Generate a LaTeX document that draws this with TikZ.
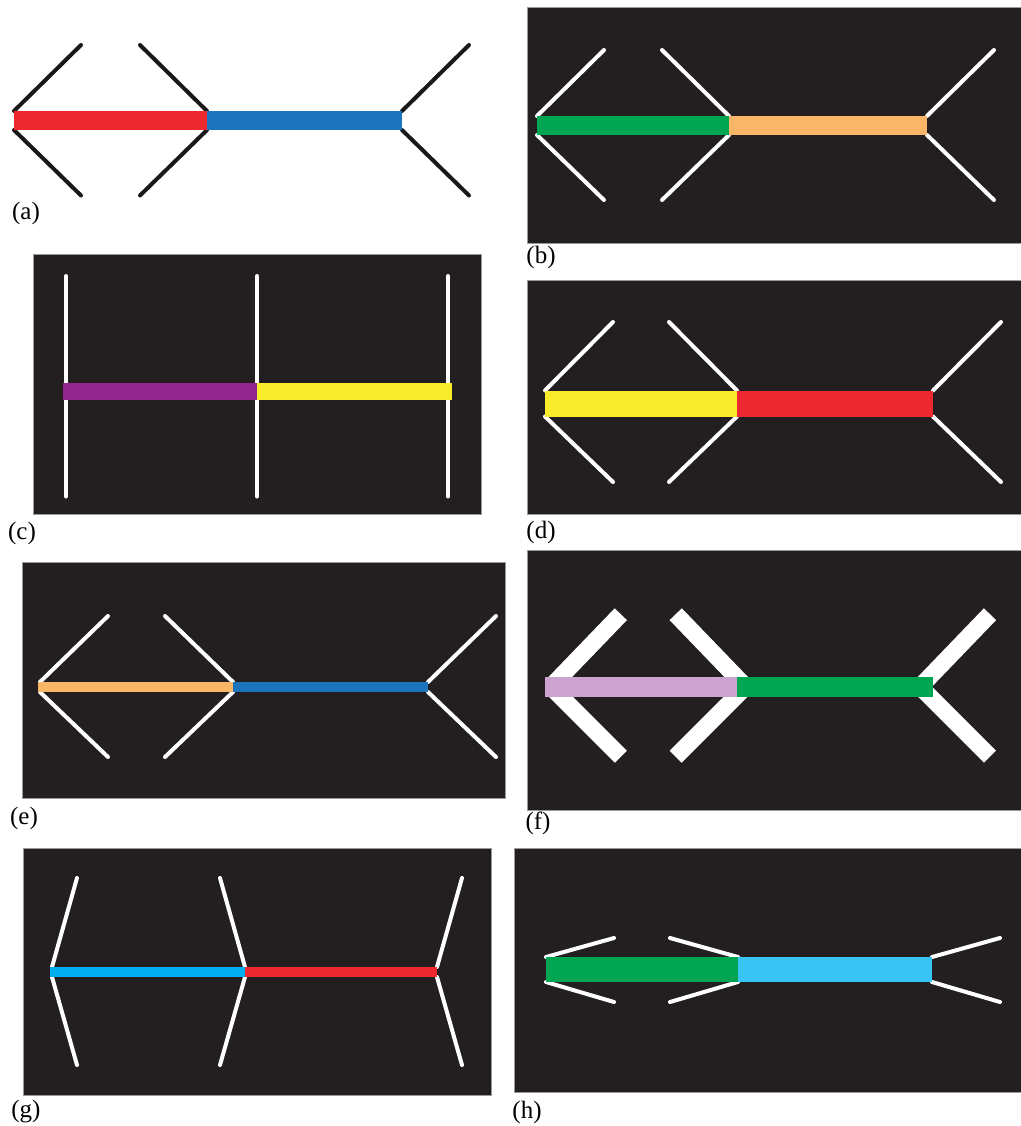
\documentclass[tikz,border=0pt]{standalone}
\usepackage{fontspec}
\setmainfont{Liberation Serif}
\usepackage{tikz}
\usetikzlibrary{calc}
\usepackage{xcolor}
\definecolor{bgdark}{RGB}{35,31,32}
\definecolor{mlred}{RGB}{237,41,48}
\definecolor{mlblue}{RGB}{28,117,188}
\definecolor{mlgreen}{RGB}{0,166,81}
\definecolor{mlorange}{RGB}{249,182,104}
\definecolor{mlpurple}{RGB}{146,39,143}
\definecolor{mlyellow}{RGB}{249,236,45}
\definecolor{mllilac}{RGB}{203,163,206}
\definecolor{mlcyan}{RGB}{0,174,239}
\definecolor{mlsky}{RGB}{57,197,243}

\begin{document}
\begin{tikzpicture}[x=0.5pt, y=-0.5pt,
    backdrop/.style={fill=bgdark, draw=black!40, line width=0.5pt},
    finblack/.style={draw=black!90, line width=2pt, line cap=round},
    finwhite/.style={draw=white, line width=2pt, line cap=round},
    finthick/.style={draw=white, line width=8.5pt, line cap=butt},
    lbl/.style={font=\fontsize{12.5}{15}\selectfont, inner sep=0pt}]
  \useasboundingbox (0,0) rectangle (1021,1126);
  % dark panels
  \foreach \p/\xa/\ya/\xb/\yb in {b/527/7/1021/243, c/33/254/481/514,
      d/527/280/1021/514, e/22/562/505/798, f/527/550/1021/810,
      g/23/848/491/1095, h/514/848/1021/1092}
    \filldraw[backdrop] (\xa,\ya) rectangle (\xb,\yb);
  % fins: vertex x's, centre y, start offset, reach, style
  \foreach \p/\xl/\xm/\xr/\yc/\hf/\dx/\fu/\fd/\fs in {
      a/14/207/402/120.5/9.5/67/75.5/75/finblack,
      b/537/729/927/125.5/9.5/67/75.5/74.5/finwhite,
      c/66/257/448/391.5/8.5/0/115.5/105/finwhite,
      d/545/737/933/403.5/13/68/81.5/78.5/finwhite,
      e/40/233/428/687/5/68/71/70/finwhite,
      f/554.8/741.7/924/686.7/4/66/72.5/70/finthick,
      g/52/245/437/972/5/25/94/93/finwhite,
      h/546/738/932/969.5/12.5/68/31.5/32.5/finwhite}
    \foreach \x/\s in {\xl/1,\xm/-1,\xr/1}
      \draw[\fs] ({\x+\s*\dx},{\yc-\fu}) -- (\x,{\yc-\hf})
        (\x,{\yc+\hf}) -- ({\x+\s*\dx},{\yc+\fd});
  % two-coloured shafts
  \foreach \p/\xl/\xm/\xr/\yc/\hb/\cA/\cB in {
      a/14/207/402/120.5/9.5/mlred/mlblue,
      b/537/729/927/125.5/9.5/mlgreen/mlorange,
      c/63/257/452/391.5/8.5/mlpurple/mlyellow,
      d/545/737/933/403.5/13/mlyellow/mlred,
      e/38/233/428/687/5/mlorange/mlblue,
      f/545/737/933/686.7/10/mllilac/mlgreen,
      g/50/245/437/972/5/mlcyan/mlred,
      h/546/738/932/969.5/12.5/mlgreen/mlsky} {
    \coordinate (\p L) at (\xl,\yc);
    \coordinate (\p M) at (\xm,\yc);
    \coordinate (\p R) at (\xr,\yc);
    \fill[\cA] ($(\p L)+(0,-\hb)$) rectangle ($(\p M)+(0,\hb)$);
    \fill[\cB] ($(\p M)+(0,-\hb)$) rectangle ($(\p R)+(0,\hb)$);
  }
  % panel letters
  \foreach \p/\xa/\ya in {a/26/213, b/541/257, c/22/533, d/541/532,
      e/24/818, f/538/823, g/26/1112, h/527/1112}
    \node[lbl] (lbl\p) at (\xa,\ya) {(\p)};
\end{tikzpicture}
\end{document}
